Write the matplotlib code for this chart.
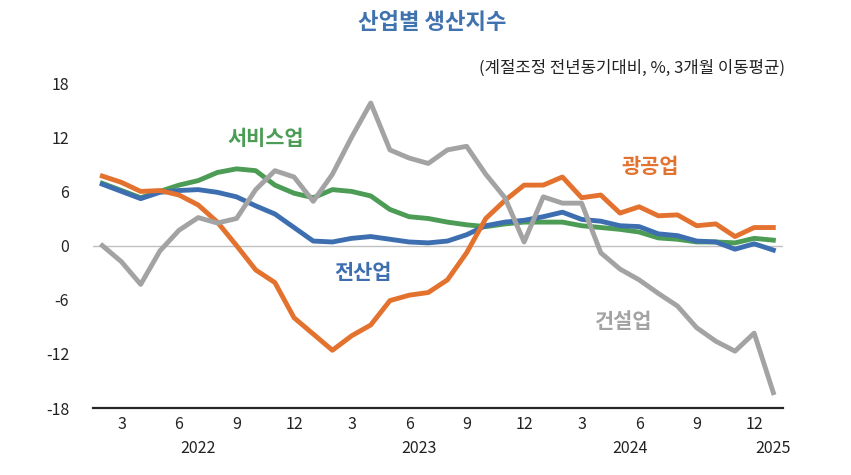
import matplotlib
matplotlib.use('Agg')
import matplotlib.pyplot as plt
import numpy as np

plt.rcParams['font.family'] = ['Noto Sans CJK KR', 'DejaVu Sans']
plt.rcParams['axes.unicode_minus'] = False

# Feb 2022 .. Jan 2025, 3-month moving average, y/y %
all_ind = [6.8, 6.0, 5.2, 5.9, 6.1, 6.2, 5.9, 5.4, 4.4, 3.5, 2.0, 0.5,
           0.4, 0.8, 1.0, 0.7, 0.4, 0.3, 0.5, 1.2, 2.2, 2.6, 2.8, 3.2,
           3.7, 2.9, 2.7, 2.2, 2.1, 1.3, 1.1, 0.5, 0.4, -0.4, 0.2, -0.5]
mining = [7.7, 7.0, 6.0, 6.1, 5.6, 4.5, 2.6, 0.0, -2.7, -4.1, -8.0, -9.8,
          -11.6, -10.0, -8.8, -6.1, -5.5, -5.2, -3.8, -0.8, 3.0, 5.0, 6.7, 6.7,
          7.6, 5.3, 5.6, 3.6, 4.3, 3.3, 3.4, 2.2, 2.4, 1.0, 2.0, 2.0]
services = [6.9, 6.1, 5.3, 6.0, 6.7, 7.2, 8.1, 8.5, 8.3, 6.7, 5.8, 5.3,
            6.2, 6.0, 5.5, 4.0, 3.2, 3.0, 2.6, 2.3, 2.1, 2.4, 2.6, 2.6,
            2.6, 2.2, 2.0, 1.8, 1.5, 0.85, 0.7, 0.4, 0.4, 0.3, 0.8, 0.6]
construction = [0.0, -1.8, -4.3, -0.6, 1.7, 3.1, 2.5, 3.0, 6.2, 8.3, 7.6, 4.9,
                7.9, 12.0, 15.8, 10.6, 9.7, 9.1, 10.6, 11.0, 7.9, 5.3, 0.4, 5.4,
                4.7, 4.7, -0.8, -2.6, -3.8, -5.3, -6.7, -9.1, -10.6, -11.7, -9.7, -16.3]

month_labels = ['3', '6', '9', '12'] * 3
year_labels = ['2022', '2023', '2024', '2025']

blue = '#3D6FB0'
orange = '#E4722F'
green = '#4C9C55'
gray = '#A3A3A3'

x = np.arange(len(all_ind))

fig = plt.figure(figsize=(8.51, 4.75), dpi=100)
ax = fig.add_axes([0.109, 0.141, 0.811, 0.684])

ax.axhline(0, color='#C0C0C0', lw=1.0, zorder=1)
ax.plot(x, services, color=green, lw=3.5, zorder=2, solid_joinstyle='round')
ax.plot(x, all_ind, color=blue, lw=3.5, zorder=3, solid_joinstyle='round')
ax.plot(x, mining, color=orange, lw=3.5, zorder=4, solid_joinstyle='round')
ax.plot(x, construction, color=gray, lw=3.5, zorder=5, solid_joinstyle='round')

ax.set_xlim(-0.5, len(x) - 0.5)
ax.set_ylim(-18, 18)
ax.set_yticks(range(-18, 19, 6))
ax.tick_params(axis='y', length=0, labelsize=11.5, pad=17, labelcolor='#222222')

# month ticks: 3, 6, 9, 12 of each year (index 0 = Feb 2022)
ax.set_xticks(range(1, 35, 3))
ax.set_xticklabels(month_labels)
ax.tick_params(axis='x', length=0, labelsize=11.5, pad=6, labelcolor='#222222')

year_pos = [5, 16.5, 27.5, 35]
for pos, lab in zip(year_pos, year_labels):
    ax.text(pos, -0.125, lab, transform=ax.get_xaxis_transform(), ha='center',
            va='center', fontsize=11.5, color='#222222')

for s in ['top', 'right', 'left']:
    ax.spines[s].set_visible(False)
ax.spines['bottom'].set_color('#262626')
ax.spines['bottom'].set_linewidth(1.6)

# series labels
ax.text(8.5, 11.9, '서비스업', color=green, fontsize=15, fontweight='bold', ha='center', va='center')
ax.text(13.6, -3.0, '전산업', color=blue, fontsize=15, fontweight='bold', ha='center', va='center')
ax.text(28.6, 8.8, '광공업', color=orange, fontsize=15, fontweight='bold', ha='center', va='center')
ax.text(27.2, -8.4, '건설업', color=gray, fontsize=15, fontweight='bold', ha='center', va='center')

fig.text(0.508, 0.953, '산업별 생산지수', color='#3F72AF', fontsize=16, fontweight='bold',
         ha='center', va='center')
fig.text(0.922, 0.857, '(계절조정 전년동기대비, %, 3개월 이동평균)', color='#222222',
         fontsize=12, ha='right', va='center')

fig.savefig('out.png', dpi=100)
